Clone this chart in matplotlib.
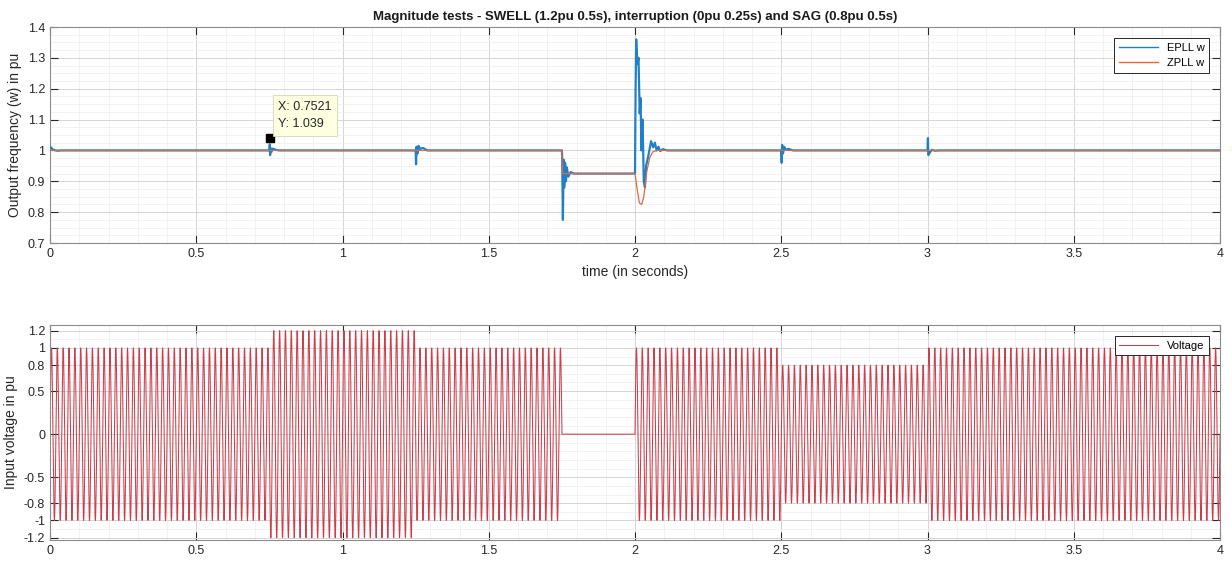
import numpy as np
import matplotlib
matplotlib.use("Agg")
import matplotlib.pyplot as plt
from matplotlib.ticker import MultipleLocator, FormatStrFormatter

plt.rcParams['font.family'] = ['Liberation Sans', 'DejaVu Sans']

# ---------------- data ----------------
epll_t = [0, 0.003, 0.008, 0.015, 0.025, 0.04,
          0.75, 0.7515, 0.7525, 0.754, 0.757, 0.762, 0.77, 0.785,
          1.25, 1.2515, 1.253, 1.256, 1.26, 1.265, 1.275, 1.29,
          1.75, 1.751, 1.7535, 1.756, 1.758, 1.761, 1.764, 1.767, 1.772, 1.78, 1.79,
          2.0, 2.002, 2.004, 2.008, 2.012, 2.016, 2.019, 2.022, 2.026, 2.03, 2.034,
          2.038, 2.045, 2.055, 2.062, 2.068, 2.074, 2.08, 2.086, 2.095, 2.11,
          2.5, 2.5015, 2.503, 2.506, 2.51, 2.515, 2.525, 2.54,
          3.0, 3.0015, 3.003, 3.006, 3.01, 3.015, 3.025, 3.04,
          4.0]
epll_w = [1.012, 1.01, 1.004, 1.001, 0.999, 1.0,
          1.0, 1.02, 0.985, 1.008, 0.995, 1.006, 1.002, 1.0,
          1.0, 0.955, 1.012, 0.99, 1.015, 1.005, 1.008, 1.0,
          1.0, 0.98, 0.775, 0.97, 0.88, 0.96, 0.90, 0.945, 0.915, 0.93, 0.925,
          0.925, 1.2, 1.36, 1.28, 1.30, 1.12, 1.17, 1.0, 1.1, 0.9, 0.88,
          0.95, 0.98, 1.03, 1.01, 1.025, 1.0, 1.012, 0.998, 1.004, 1.0,
          1.0, 0.96, 1.018, 0.99, 1.012, 1.002, 1.005, 1.0,
          1.0, 1.04, 0.985, 0.99, 0.996, 1.002, 0.999, 1.0,
          1.0]

zpll_t = [0, 1.75, 1.752, 2.0, 2.008, 2.015, 2.023, 2.03, 2.04, 2.05, 2.06, 2.075, 4.0]
zpll_w = [1.0, 1.0, 0.925, 0.925, 0.87, 0.83, 0.825, 0.85, 0.93, 0.975, 0.995, 1.0, 1.0]

# voltage: amplitude per time segment, 50 Hz supply
seg_start = [0.0, 0.75, 1.25, 1.75, 2.0, 2.5, 3.0]
seg_end = [0.75, 1.25, 1.75, 2.0, 2.5, 3.0, 4.0]
seg_amp = [1.0, 1.2, 1.0, 0.0, 1.0, 0.8, 1.0]
supply_hz = 50.0

tip_x, tip_y = 0.7521, 1.039

x_ticks = [0, 0.5, 1, 1.5, 2, 2.5, 3, 3.5, 4]
top_yticks = [0.7, 0.8, 0.9, 1.0, 1.1, 1.2, 1.3, 1.4]
bot_yticks = [-1.2, -1, -0.8, -0.5, 0, 0.5, 0.8, 1, 1.2]

# ---------------- figure ----------------
fig = plt.figure(figsize=(12.32, 5.63), dpi=100)
ax1 = fig.add_axes([50/1232, 1-243/563, 1170/1232, 216/563])
ax2 = fig.add_axes([50/1232, 1-540/563, 1170/1232, 215/563])

blue = '#1f80c8'
orange = '#E2693A'
red = '#CC3F4A'

def style(ax):
    ax.set_xlim(0, 4)
    ax.set_xticks(x_ticks)
    ax.xaxis.set_major_formatter(FormatStrFormatter('%g'))
    ax.yaxis.set_major_formatter(FormatStrFormatter('%g'))
    ax.xaxis.set_minor_locator(MultipleLocator(0.1))
    ax.grid(True, which='major', color='#d5d5d5', lw=0.7)
    ax.grid(True, which='minor', color='#ededed', lw=0.5)
    ax.set_axisbelow(True)
    ax.tick_params(which='major', direction='in', length=6, width=0.8,
                   labelsize=9, colors='#262626', top=True, right=True)
    ax.tick_params(which='minor', direction='in', length=0)
    for s in ax.spines.values():
        s.set_color('#8c8c8c')
        s.set_linewidth(0.8)

# top plot
ax1.plot(epll_t, epll_w, color=blue, lw=1.6, label='EPLL w', zorder=3)
ax1.plot(zpll_t, zpll_w, color=orange, lw=0.9, label='ZPLL w', zorder=4)
ax1.set_ylim(0.7, 1.4)
ax1.set_yticks(top_yticks)
ax1.yaxis.set_minor_locator(MultipleLocator(0.025))
style(ax1)
ax1.set_xlabel('time (in seconds)', fontsize=10, color='#262626', labelpad=4)
ax1.set_ylabel('Output frequency (w) in pu', fontsize=10, color='#262626')
ax1.set_title('Magnitude tests - SWELL (1.2pu 0.5s), interruption (0pu 0.25s) and SAG (0.8pu 0.5s)',
              fontsize=9.5, fontweight='bold', color='#1a1a1a', pad=5)
leg1 = ax1.legend(loc='upper right', fontsize=8, fancybox=False, framealpha=1,
                  edgecolor='#262626', handlelength=3.5, borderaxespad=1.0)
leg1.get_frame().set_linewidth(0.7)
for ln in leg1.get_lines():
    ln.set_linewidth(1.0)

ax1.plot([tip_x], [tip_y], marker='s', color='black', ms=6, zorder=6)
ax1.annotate('X: %.4f\nY: %.3f' % (tip_x, tip_y), xy=(tip_x, tip_y),
             xytext=(6, 6), textcoords='offset points', ha='left', va='bottom',
             fontsize=9, color='#262626', linespacing=1.6,
             bbox=dict(boxstyle='square,pad=0.45', fc='#FFFFE1', ec='#d5d5b5', lw=0.6),
             zorder=7)

# bottom plot
t = np.linspace(0, 4, 40001)
amp = np.zeros_like(t)
for s0, s1, a in zip(seg_start, seg_end, seg_amp):
    amp[(t >= s0) & (t <= s1)] = a
v = amp * np.sin(2 * np.pi * supply_hz * t)
ax2.plot(t, v, color=red, lw=0.75, label='Voltage')
ax2.set_ylim(-1.227, 1.266)
ax2.set_yticks(bot_yticks)
ax2.yaxis.set_minor_locator(MultipleLocator(0.1))
style(ax2)
ax2.set_ylabel('Input voltage in pu', fontsize=10, color='#262626')
leg2 = ax2.legend(loc='upper right', fontsize=8, fancybox=False, framealpha=1,
                  edgecolor='#262626', handlelength=3.5, borderaxespad=1.0)
leg2.get_frame().set_linewidth(0.7)

fig.savefig('out.png', dpi=100)
